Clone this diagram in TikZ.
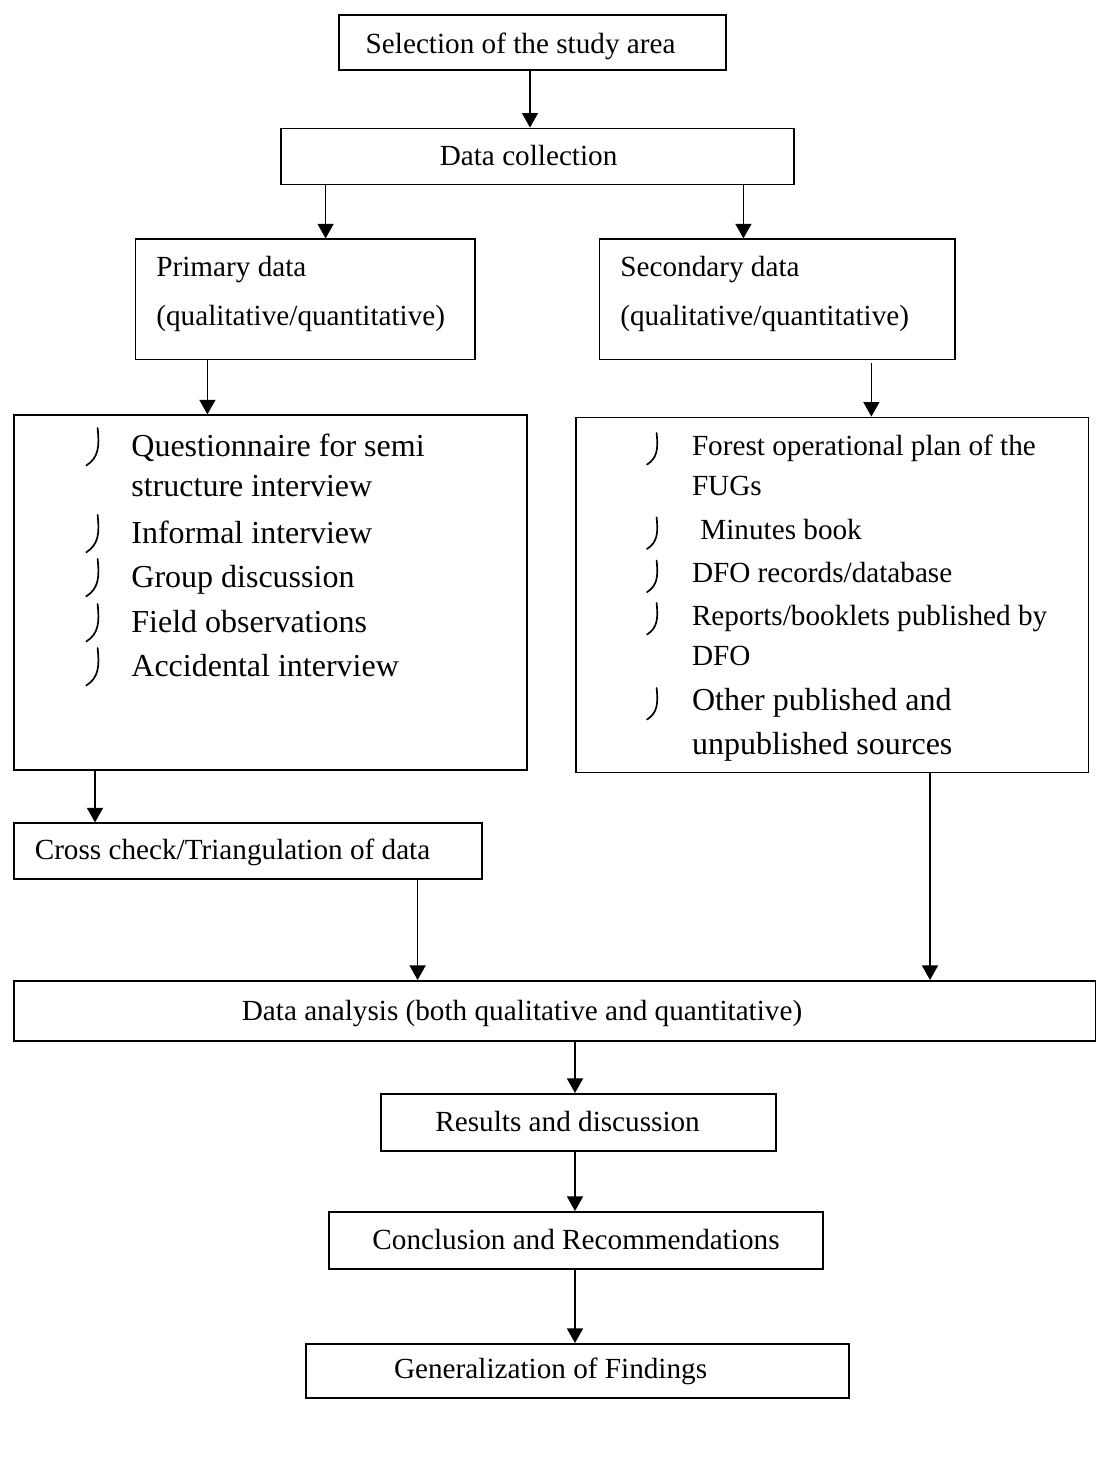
\documentclass[tikz,border=0pt]{standalone}
\usepackage{fontspec}
\setmainfont{Liberation Serif}
\usetikzlibrary{arrows.meta}

\begin{document}
\begin{tikzpicture}[
    x=1pt, y=-1pt,
    box/.style={draw, line width=0.9pt, inner sep=0pt, anchor=north west},
    txt/.style={inner sep=0pt, anchor=base, font=\fontsize{14.6}{17}\selectfont},
    itm/.style={txt, anchor=base west},
    bigitm/.style={itm, font=\fontsize{16}{19}\selectfont},
    arr/.style={-{Triangle[length=7.3pt,width=8pt]}, line width=0.8pt},
    lbul/.pic={\draw[line width=0.85pt, line cap=round]
                   (6.3,-14.3) .. controls (7.3,-5) and (6.8,0.5) .. (0.6,4.5);},
]
\useasboundingbox (0,0) rectangle (548,742);

% === Top: study area and data collection ===
\node[box, minimum width=193.5pt, minimum height=27.7pt] (sel) at (169,7) {};
\node[txt] (selt) at (260.3,26.5) {Selection of the study area};

\node[box, minimum width=256.5pt, minimum height=28pt] (dc) at (140,63.8) {};
\node[txt] (dct) at (264.3,82.5) {Data collection};

% Primary / secondary
\node[box, minimum width=169.7pt, minimum height=60.1pt] (prim) at (67.3,119.2) {};
\node[itm] (prim1) at (78,138) {Primary data};
\node[itm] (prim2) at (78,162.5) {(qualitative/quantitative)};

\node[box, minimum width=177.9pt, minimum height=60.1pt] (sec) at (299.3,119.2) {};
\node[itm] (sec1) at (310,138) {Secondary data};
\node[itm] (sec2) at (310,162.5) {(qualitative/quantitative)};

% === Primary data methods (left list) ===
\node[box, minimum width=256.3pt, minimum height=177.5pt] (llist) at (6.7,207.2) {};
\node[bigitm] (l1) at (65.5,228.3) {Questionnaire for semi};
\node[bigitm] (l1b) at (65.5,248.3) {structure interview};
\node[bigitm] (l2) at (65.5,271.7) {Informal interview};
\node[bigitm] (l3) at (65.5,293.7) {Group discussion};
\node[bigitm] (l4) at (65.5,316.3) {Field observations};
\node[bigitm] (l5) at (65.5,338.3) {Accidental interview};
\foreach \yb in {228.3,271.7,293.7,316.3,338.3}
    \pic at (42.5,\yb) {lbul};

% === Secondary data sources (right list) ===
\node[box, minimum width=256.3pt, minimum height=177.5pt] (rlist) at (287.5,208.3) {};
\node[itm] (r1) at (345.8,227.5) {Forest operational plan of the};
\node[itm] (r1b) at (345.8,247.5) {FUGs};
\node[itm] (r2) at (350,269.7) {Minutes book};
\node[itm] (r3) at (345.8,291.3) {DFO records/database};
\node[itm] (r4) at (345.8,312.5) {Reports/booklets published by};
\node[itm] (r4b) at (345.8,332.5) {DFO};
\node[bigitm] (r5) at (345.8,355) {Other published and};
\node[bigitm] (r5b) at (345.8,377) {unpublished sources};
\foreach \yb in {227.5,269.7,291.3,312.5,355}
    \pic[scale=0.84] at (323,\yb+1) {lbul};

% === Cross check ===
\node[box, minimum width=233.8pt, minimum height=28pt] (cross) at (6.7,411.2) {};
\node[itm] (crosst) at (17.2,429.7) {Cross check/Triangulation of data};

% === Analysis and write-up ===
\node[box, minimum width=541pt, minimum height=30pt] (ana) at (6.5,490) {};
\node[txt] (anat) at (261,510) {Data analysis (both qualitative and quantitative)};

\node[box, minimum width=197.5pt, minimum height=28.5pt] (res) at (190,546.5) {};
\node[txt] (rest) at (283.8,565.5) {Results and discussion};

\node[box, minimum width=247pt, minimum height=28.5pt] (conc) at (164,605.5) {};
\node[txt] (conct) at (288,624.5) {Conclusion and Recommendations};

\node[box, minimum width=271.5pt, minimum height=27pt] (gen) at (152.5,671.5) {};
\node[txt] (gent) at (275.3,689) {Generalization of Findings};

% === Arrows ===
\draw[arr] (sel.south -| 265,0) -- (dc.north -| 265,0);
\draw[arr] (dc.south -| 162.8,0) -- (prim.north -| 162.8,0);
\draw[arr] (dc.south -| 371.7,0) -- (sec.north -| 371.7,0);
\draw[arr] (prim.south -| 103.7,0) -- (llist.north -| 103.7,0);
\draw[arr, shorten <=1.5pt] (sec.south -| 435.7,0) -- (rlist.north -| 435.7,0);
\draw[arr] (llist.south -| 47.5,0) -- (cross.north -| 47.5,0);
\draw[arr] (cross.south -| 208.8,0) -- (ana.north -| 208.8,0);
\draw[arr] (rlist.south -| 465,0) -- (ana.north -| 465,0);
\draw[arr] (ana.south -| 287.5,0) -- (res.north -| 287.5,0);
\draw[arr] (res.south -| 287.5,0) -- (conc.north -| 287.5,0);
\draw[arr] (conc.south -| 287.5,0) -- (gen.north -| 287.5,0);

\end{tikzpicture}
\end{document}
